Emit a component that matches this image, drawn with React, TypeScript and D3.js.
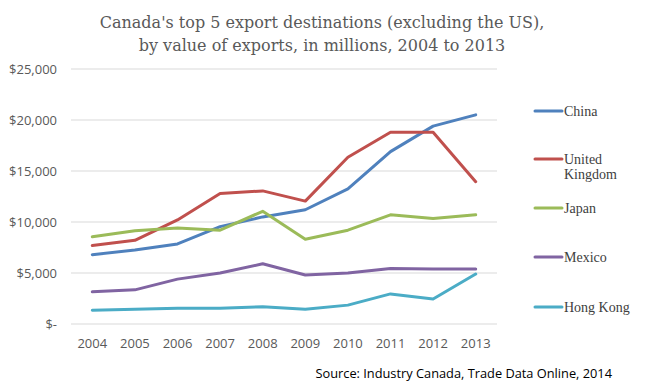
import * as d3 from "d3";
import { useEffect, useRef } from "react";

// data (millions of CAD)
const years = ["2004", "2005", "2006", "2007", "2008", "2009", "2010", "2011", "2012", "2013"];
const china = [6800, 7250, 7850, 9550, 10500, 11200, 13250, 16900, 19400, 20500];
const unitedKingdom = [7700, 8200, 10200, 12800, 13050, 12050, 16350, 18800, 18800, 13950];
const japan = [8550, 9150, 9400, 9200, 11050, 8300, 9200, 10700, 10350, 10700];
const mexico = [3150, 3350, 4400, 5000, 5900, 4800, 5000, 5450, 5400, 5400];
const hongKong = [1350, 1450, 1550, 1550, 1700, 1450, 1850, 2950, 2450, 4900];
const yTicks = [0, 5000, 10000, 15000, 20000, 25000];

const series = [
  { name: "China", values: china, color: "#4F81BD", ly: 111 },
  { name: "United Kingdom", values: unitedKingdom, color: "#C0504D", ly: 159 },
  { name: "Japan", values: japan, color: "#9BBB59", ly: 208 },
  { name: "Mexico", values: mexico, color: "#8064A2", ly: 257 },
  { name: "Hong Kong", values: hongKong, color: "#4BACC6", ly: 307 },
];

const App = () => {
  const ref = useRef<SVGSVGElement>(null);
  const width = 649;
  const height = 389;

  useEffect(() => {
    const svg = d3.select(ref.current);
    svg.selectAll("*").remove();

    const axisFont = "'Open Sans', sans-serif";
    const grey = "#595959";

    // title
    const title = svg.append("text")
      .attr("text-anchor", "middle")
      .attr("font-family", "'DejaVu Serif', serif")
      .attr("font-size", 16)
      .attr("fill", grey);
    title.append("tspan").attr("x", 322).attr("y", 28)
      .text("Canada's top 5 export destinations (excluding the US),");
    title.append("tspan").attr("x", 322).attr("y", 51)
      .text("by value of exports, in millions, 2004 to 2013");

    const x = d3.scaleBand().domain(years).range([71, 497]);
    const y = d3.scaleLinear().domain([0, 25000]).range([324, 69]);

    // gridlines
    svg.append("g").selectAll("line").data(yTicks).join("line")
      .attr("x1", 71).attr("x2", 497)
      .attr("y1", d => y(d)).attr("y2", d => y(d))
      .attr("stroke", "#D9D9D9").attr("stroke-width", 1);

    // y labels
    svg.append("g").selectAll("text").data(yTicks).join("text")
      .attr("x", 57).attr("y", d => y(d)).attr("dy", "0.35em")
      .attr("text-anchor", "end")
      .attr("font-family", axisFont).attr("font-size", 13)
      .attr("fill", grey)
      .text(d => d === 0 ? "$-" : "$" + d3.format(",")(d));

    // x labels
    svg.append("g").selectAll("text").data(years).join("text")
      .attr("x", d => (x(d) as number) + x.bandwidth() / 2).attr("y", 348)
      .attr("text-anchor", "middle")
      .attr("font-family", axisFont).attr("font-size", 13)
      .attr("fill", grey)
      .text(d => d);

    const line = d3.line<number>()
      .x((_, i) => (x(years[i]) as number) + x.bandwidth() / 2)
      .y(d => y(d));

    svg.append("g").selectAll("path").data(series).join("path")
      .attr("d", d => line(d.values))
      .attr("fill", "none")
      .attr("stroke", d => d.color)
      .attr("stroke-width", 3)
      .attr("stroke-linejoin", "round")
      .attr("stroke-linecap", "round");

    // legend
    const lg = svg.append("g").selectAll("g").data(series).join("g");
    lg.append("line")
      .attr("x1", 535).attr("x2", 562)
      .attr("y1", d => d.ly).attr("y2", d => d.ly)
      .attr("stroke", d => d.color).attr("stroke-width", 3)
      .attr("stroke-linecap", "round");
    lg.each(function (d) {
      const parts = d.name === "United Kingdom" ? ["United", "Kingdom"] : [d.name];
      const t = d3.select(this).append("text")
        .attr("font-family", "'Liberation Serif', serif")
        .attr("font-size", 14)
        .attr("fill", "#404040");
      parts.forEach((p, i) => {
        t.append("tspan").attr("x", 564).attr("y", d.ly + 5 + i * 15).text(p);
      });
    });

    // source
    svg.append("text")
      .attr("x", 612).attr("y", 378)
      .attr("text-anchor", "end")
      .attr("font-family", "'Open Sans', sans-serif")
      .attr("font-size", 12.8)
      .attr("fill", "#000")
      .text("Source: Industry Canada, Trade Data Online, 2014");
  }, []);

  return (
    <svg ref={ref} width={width} height={height}
      style={{ position: "absolute", left: 0, top: 0, background: "#fff" }} />
  );
};

export default App;
